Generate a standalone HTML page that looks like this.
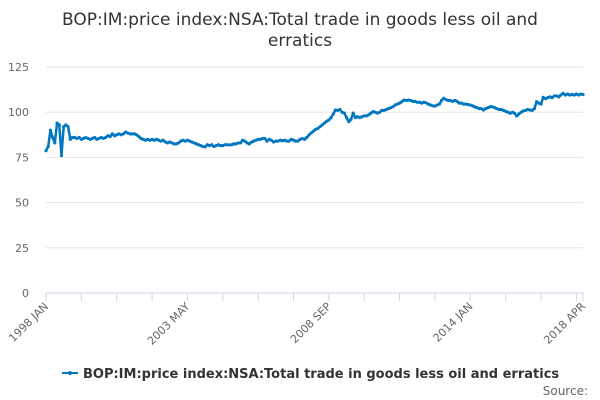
<!DOCTYPE html>
<html><head><meta charset="utf-8"><style>
body{margin:0;background:#fff;font-family:"DejaVu Sans","Liberation Sans",sans-serif;}
svg{display:block}
</style></head><body>
<svg id="chart" width="600" height="400">
<text x="300" y="25" text-anchor="middle" font-size="17" fill="#333"><tspan x="300" y="25">BOP:IM:price index:NSA:Total trade in goods less oil and</tspan><tspan x="300" y="46">erratics</tspan></text>
<g id="grid"></g><g id="xaxis"></g><g id="series"></g>
<g>
<line x1="62" y1="373" x2="78" y2="373" stroke="#0077c0" stroke-width="2"/><circle cx="70" cy="373" r="2" fill="#0077c0"/>
<text x="83" y="378" font-size="13" font-weight="bold" fill="#333">BOP:IM:price index:NSA:Total trade in goods less oil and erratics</text></g>
<text x="588" y="395" text-anchor="end" font-size="12" fill="#666">Source:</text>
</svg>
<script>
const yTicks=[0,25,50,75,100,125];
const xLabels=["1998 JAN","2003 MAY","2008 SEP","2014 JAN","2018 APR"];
const xLabelIdx=[0,64,128,192,243];
const values=[
78.7,81,90,86,83,94,93,76,92,93,92,85,
86,86,85.5,86,85,85.5,86,85.5,85,85.5,86,85,
85.5,86,85.5,86,87,86.5,88,87,87.5,88,87.5,88,
89,88.5,88,88,88,87.5,86.5,85.5,85,84.5,85,84.5,
85,84.5,85,84.5,84,84.5,83.5,83,83.5,83,82.5,82.5,
83,84,84.5,84,84.5,84,83.5,83,82.5,82,81.5,81,
80.8,82,81.5,82,81,81.5,82,81.5,81.5,82,82,81.9,
82,82.5,82.5,83,83,84.5,84,83,82.5,83.5,84,84.5,
85,85,85.5,85.5,84,85,84.5,83.5,84,84,84.5,84.2,
84.5,84,84,85,84.5,84,84,85,85.5,85,86,87.4,
88.5,89.5,90.5,91,92,93,94,95,95.7,97,99,101.2,
101,101.5,100,99.5,97,94.8,96,99.5,97,97.5,97,97.5,
98,98,98.5,99.5,100.3,100,99.5,100,101,101,101.5,102,
102.5,103,104,104.5,105,105.8,106.7,106.5,106.7,106.5,106,106,
105.5,105.5,105,105.5,105.2,104.5,104,103.5,103.4,104,104.5,106.5,
107.7,107,106.5,106.5,106,106.5,106,105,105,104.5,104.5,104.2,
104,103.5,103,102.5,102,102,101.2,102,102.5,103,103,102.5,
102,101.5,101.5,101,100.5,100,99.4,100,99.5,97.9,99,100,
100.7,101,101.5,101.2,101,102,105.8,105,104.5,108.2,107.5,108,
108.5,108,109,109,108.5,109.5,110.4,109.5,110,109.5,109.8,109.5,
110,109.5,110,109.8];
const NS="http://www.w3.org/2000/svg";
const X0=46,X1=583,Y0=293,Y1=67,YMAX=125;
const n=values.length;
const xs=i=>X0+(X1-X0)*i/(n-1);
const ys=v=>Y0-(Y0-Y1)*v/YMAX;
function mk(tag,attrs,parent){const e=document.createElementNS(NS,tag);for(const k in attrs)e.setAttribute(k,attrs[k]);parent.appendChild(e);return e;}
const grid=document.getElementById('grid');
yTicks.forEach(t=>{
  if(t>0){const l=mk('line',{x1:X0,x2:X1,y1:ys(t),y2:ys(t),stroke:'#e6e6e6','stroke-width':1},grid);
  
  }
  const tx=mk('text',{x:29,y:ys(t)+4,'text-anchor':'end','font-size':11,fill:'#666'},grid);
  tx.textContent=t;
  
  
});
const xa=document.getElementById('xaxis');
const base=mk('line',{x1:X0,x2:X1,y1:Y0,y2:Y0,stroke:'#ccd6eb','stroke-width':1},xa);


for(let i=0;i<n;i+=16){const t=mk('line',{x1:xs(i),x2:xs(i),y1:Y0,y2:Y0+8,stroke:'#ccd6eb'},xa);

}
mk('line',{x1:X1,x2:X1,y1:Y0,y2:Y0+8,stroke:'#ccd6eb'},xa);
xLabels.forEach((lab,k)=>{const x=xs(xLabelIdx[k]);
  const t=mk('text',{x:x+3,y:Y0+14,'text-anchor':'end','font-size':11,fill:'#666',transform:`rotate(-45 ${x+3} ${Y0+14})`},xa);
  t.textContent=lab;
  
  
});
const sg=document.getElementById('series');
const p=mk('path',{d:values.map((v,i)=>(i?'L':'M')+xs(i).toFixed(2)+' '+ys(v).toFixed(2)).join(''),fill:'none',stroke:'#0077c0','stroke-width':2.5,'stroke-linejoin':'round'},sg);


values.forEach((v,i)=>{const c=mk('circle',{cx:xs(i),cy:ys(v),r:1.6,fill:'#0077c0'},sg);

});
</script>
</body></html>
